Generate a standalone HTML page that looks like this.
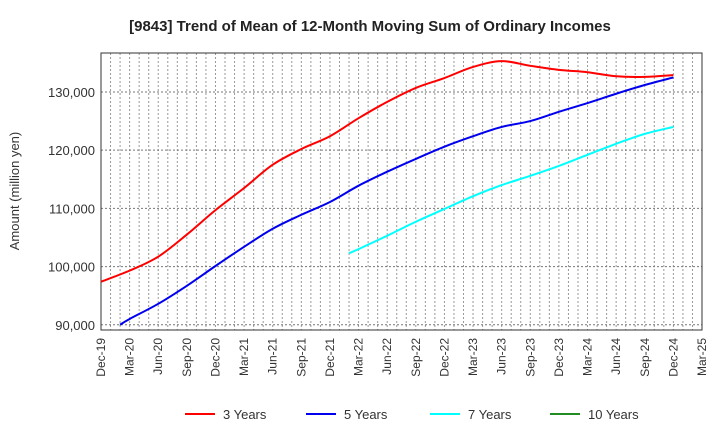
<!DOCTYPE html>
<html><head><meta charset="utf-8"><style>
body{margin:0;background:#fff;font-family:"Liberation Sans",Arial,sans-serif}
svg text{font-family:"Liberation Sans",Arial,sans-serif}
</style></head><body>
<svg id="c" width="720" height="440" xmlns="http://www.w3.org/2000/svg">
<text x="370" y="31" text-anchor="middle" font-size="15" font-weight="bold" fill="#222">[9843]  Trend of Mean of 12-Month Moving Sum of Ordinary Incomes</text>
<text transform="translate(19,191) rotate(-90)" text-anchor="middle" font-size="13" fill="#333">Amount (million yen)</text>
<g id="grid"></g><g id="axes"></g><g id="series"></g><g id="legend"></g>
</svg>
<script>
const xLabels=["Dec-19","Mar-20","Jun-20","Sep-20","Dec-20","Mar-21","Jun-21","Sep-21","Dec-21","Mar-22","Jun-22","Sep-22","Dec-22","Mar-23","Jun-23","Sep-23","Dec-23","Mar-24","Jun-24","Sep-24","Dec-24","Mar-25"];
const yTicks=[90000,100000,110000,120000,130000];
const seriesNames=["3 Years","5 Years","7 Years","10 Years"];
const seriesColors=["#ff0000","#0000ee","#00ffff","#228b22"];
const months3=[0,3,6,9,12,15,18,21,24,27,30,33,36,39,42,45,48,51,54,57,60];
const vals3=[97400,99300,101700,105500,109700,113500,117500,120200,122400,125500,128300,130700,132400,134300,135300,134500,133800,133400,132700,132600,132900];
const months5=[2,3,6,9,12,15,18,21,24,27,30,33,36,39,42,45,48,51,54,57,60];
const vals5=[90000,91000,93600,96700,100100,103400,106500,108900,111100,113900,116300,118500,120600,122400,124000,125000,126600,128100,129700,131200,132500];
const months7=[26,27,30,33,36,39,42,45,48,51,54,57,60];
const vals7=[102300,103000,105300,107700,109900,112100,114000,115600,117300,119200,121100,122800,124000];
const months10=[];const vals10=[];
const L=101,R=702,T=53,B=330,yMin=89100,yMax=136700,nMonths=63;
const X=m=>L+m*(R-L)/nMonths, Y=v=>B-(v-yMin)*(B-T)/(yMax-yMin);
const NS="http://www.w3.org/2000/svg";
function mk(t,a,p){const e=document.createElementNS(NS,t);for(const k in a)e.setAttribute(k,a[k]);p.appendChild(e);return e;}
const g=document.getElementById('grid'),ax=document.getElementById('axes'),s=document.getElementById('series'),lg=document.getElementById('legend');
for(let m=1;m<nMonths;m++){const l=mk('line',{x1:X(m),x2:X(m),y1:T,y2:B,stroke:'#999','stroke-dasharray':'2,2','stroke-width':1},g);

}
yTicks.forEach(v=>{const l=mk('line',{x1:L,x2:R,y1:Y(v),y2:Y(v),stroke:'#777','stroke-dasharray':'2,2','stroke-width':1},g);


const t=mk('text',{x:L-6,y:Y(v)+5,'text-anchor':'end','font-size':13,fill:'#333'},ax);t.textContent=v.toLocaleString('en-US');

});
const fr=mk('rect',{x:L,y:T,width:R-L,height:B-T,fill:'none',stroke:'#333','stroke-width':1},ax);


xLabels.forEach((lb,i)=>{const x=X(i*3);const t=mk('text',{transform:`translate(${x+4},${B+8}) rotate(-90)`,'text-anchor':'end','font-size':12,fill:'#333'},ax);t.textContent=lb;

});
function path(ms,vs){const p=ms.map((m,i)=>[X(m),Y(vs[i])]);if(!p.length)return '';let d=`M${p[0][0]},${p[0][1]}`;
for(let i=0;i<p.length-1;i++){const p0=p[i-1]||p[i],p1=p[i],p2=p[i+1],p3=p[i+2]||p2;
d+=` C${p1[0]+(p2[0]-p0[0])/6},${p1[1]+(p2[1]-p0[1])/6} ${p2[0]-(p3[0]-p1[0])/6},${p2[1]-(p3[1]-p1[1])/6} ${p2[0]},${p2[1]}`;}return d;}
[[months3,vals3],[months5,vals5],[months7,vals7],[months10,vals10]].forEach((sv,i)=>{if(!sv[0].length)return;
const pe=mk('path',{d:path(sv[0],sv[1]),fill:'none',stroke:seriesColors[i],'stroke-width':2},s);

});
const lx=[185,306,430,550];
seriesNames.forEach((n,i)=>{const gg=mk('g',{},lg);


mk('line',{x1:lx[i],x2:lx[i]+30,y1:414,y2:414,stroke:seriesColors[i],'stroke-width':2},gg);
const t=mk('text',{x:lx[i]+38,y:419,'font-size':13,fill:'#333'},gg);t.textContent=n;});
</script>
</body></html>
